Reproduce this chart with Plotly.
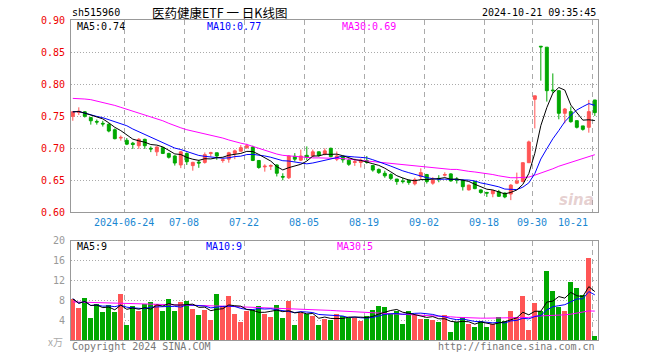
import plotly.graph_objects as go

# ---------------- data ----------------
dates = [
    "2024-06-11","2024-06-12","2024-06-13","2024-06-14","2024-06-17","2024-06-18","2024-06-19","2024-06-20","2024-06-21",
    "2024-06-24","2024-06-25","2024-06-26","2024-06-27","2024-06-28",
    "2024-07-01","2024-07-02","2024-07-03","2024-07-04","2024-07-05","2024-07-08","2024-07-09","2024-07-10","2024-07-11","2024-07-12",
    "2024-07-15","2024-07-16","2024-07-17","2024-07-18","2024-07-19","2024-07-22","2024-07-23","2024-07-24","2024-07-25","2024-07-26",
    "2024-07-29","2024-07-30","2024-07-31",
    "2024-08-01","2024-08-02","2024-08-05","2024-08-06","2024-08-07","2024-08-08","2024-08-09","2024-08-12","2024-08-13","2024-08-14",
    "2024-08-15","2024-08-16","2024-08-19","2024-08-20","2024-08-21","2024-08-22","2024-08-23","2024-08-26","2024-08-27","2024-08-28",
    "2024-08-29","2024-08-30",
    "2024-09-02","2024-09-03","2024-09-04","2024-09-05","2024-09-06","2024-09-09","2024-09-10","2024-09-11","2024-09-12","2024-09-13",
    "2024-09-18","2024-09-19","2024-09-20","2024-09-23","2024-09-24","2024-09-25","2024-09-26","2024-09-27","2024-09-30",
    "2024-10-08","2024-10-09","2024-10-10","2024-10-11","2024-10-14","2024-10-15","2024-10-16","2024-10-17","2024-10-18","2024-10-21",
]

open_ = [0.750,0.756,0.757,0.748,0.742,0.739,0.7375,0.729,0.716,0.7125,
         0.708,0.704,0.714,0.700,0.6945,0.701,0.692,0.688,0.674,0.692,
         0.673,0.6785,0.678,0.692,0.693,0.681,0.683,0.692,0.6955,0.701,
         0.702,0.681,0.671,0.672,0.674,0.656,0.654,0.6875,0.6815,0.689,
         0.688,0.6945,0.691,0.700,0.683,0.687,0.6815,0.678,0.678,0.681,
         0.673,0.667,0.661,0.659,0.652,0.649,0.650,0.6445,0.6557,0.659,
         0.6455,0.653,0.658,0.660,0.652,0.650,0.635,0.648,0.635,0.631,
         0.629,0.632,0.630,0.6285,0.6455,0.648,0.6775,0.7765,0.8595,0.858,
         0.791,0.790,0.7547,0.7573,0.7432,0.735,0.7328,0.7755]
high = [0.758,0.764,0.758,0.749,0.745,0.743,0.739,0.731,0.720,0.716,
        0.710,0.716,0.715,0.703,0.703,0.702,0.693,0.689,0.696,0.6935,
        0.679,0.682,0.6935,0.6945,0.693,0.684,0.6945,0.698,0.705,0.707,
        0.704,0.681,0.675,0.675,0.675,0.661,0.689,0.6925,0.698,0.703,
        0.698,0.695,0.700,0.701,0.695,0.688,0.684,0.684,0.684,0.688,
        0.674,0.6685,0.665,0.661,0.652,0.654,0.651,0.654,0.6687,0.660,
        0.655,0.658,0.6625,0.661,0.655,0.651,0.643,0.649,0.636,0.632,
        0.634,0.635,0.631,0.644,0.662,0.678,0.712,0.782,0.8595,0.858,
        0.817,0.791,0.763,0.7651,0.7432,0.735,0.7755,0.7755]
low = [0.743,0.752,0.748,0.737,0.737,0.734,0.725,0.714,0.712,0.705,
       0.699,0.699,0.699,0.694,0.688,0.691,0.684,0.673,0.669,0.674,
       0.665,0.6695,0.676,0.687,0.682,0.6775,0.6775,0.683,0.695,0.699,
       0.680,0.668,0.6635,0.666,0.656,0.650,0.652,0.6795,0.680,0.6815,
       0.686,0.687,0.689,0.686,0.680,0.6775,0.6725,0.6725,0.670,0.676,
       0.6635,0.660,0.654,0.650,0.643,0.645,0.643,0.642,0.6505,0.645,
       0.643,0.647,0.656,0.648,0.645,0.634,0.634,0.636,0.629,0.624,
       0.6235,0.624,0.622,0.619,0.644,0.647,0.677,0.731,0.8057,0.773,
       0.786,0.7453,0.739,0.740,0.731,0.7276,0.7244,0.7505]
close = [0.757,0.758,0.750,0.743,0.741,0.738,0.727,0.715,0.717,0.7065,
         0.706,0.714,0.704,0.699,0.702,0.692,0.686,0.677,0.6945,0.679,
         0.678,0.677,0.690,0.693,0.688,0.682,0.693,0.696,0.701,0.704,
         0.681,0.670,0.672,0.673,0.661,0.655,0.688,0.683,0.688,0.686,
         0.6945,0.689,0.696,0.687,0.688,0.682,0.675,0.679,0.6815,0.678,
         0.666,0.662,0.657,0.653,0.648,0.648,0.6465,0.651,0.662,0.648,
         0.650,0.652,0.659,0.649,0.6505,0.640,0.6425,0.637,0.631,0.630,
         0.634,0.625,0.624,0.6425,0.649,0.6775,0.710,0.782,0.8585,0.790,
         0.790,0.7547,0.7614,0.7416,0.7328,0.7296,0.7573,0.7557]

# volume (unit: 10k)
volume = [8.3,6.5,8.5,4.5,7.4,5.7,7.1,5.7,9.3,3.1,
          7.0,5.9,7.3,7.7,7.4,5.9,8.3,5.9,7.7,7.9,
          6.3,5.1,6.1,4.1,9.3,6.9,8.9,5.3,3.7,5.9,
          6.1,6.9,5.3,4.7,7.1,4.5,7.9,3.1,5.5,5.3,
          4.9,3.1,4.3,4.1,5.27,4.87,4.53,4.47,3.87,4.87,
          6.07,6.87,6.67,5.27,5.87,3.27,5.87,5.07,4.27,4.27,
          4.07,3.67,5.07,1.67,3.67,4.67,3.27,2.67,3.87,2.67,
          3.27,4.67,3.87,5.87,4.67,8.87,2.07,7.47,5.87,13.87,
          9.87,6.67,5.87,11.67,10.47,9.07,16.67,0.87]

# 30-day moving averages
ma30_price = [0.778,0.778,0.777,0.776,0.774,0.772,0.770,0.767,0.764,0.761,
              0.758,0.756,0.753,0.749,0.746,0.743,0.739,0.735,0.732,0.729,
              0.727,0.725,0.723,0.721,0.719,0.716,0.713,0.710,0.708,0.706,
              0.703,0.699,0.696,0.693,0.691,0.689,0.688,0.687,0.687,0.686,
              0.685,0.685,0.685,0.685,0.684,0.684,0.683,0.682,0.682,0.681,
              0.680,0.679,0.678,0.677,0.676,0.675,0.674,0.673,0.671,0.670,
              0.669,0.668,0.668,0.667,0.667,0.665,0.664,0.663,0.662,0.661,
              0.659,0.657,0.655,0.654,0.654,0.654,0.655,0.658,0.661,0.664,
              0.668,0.672,0.675,0.677,0.680,0.684,0.687,0.690]
ma30_vol = [7.67,7.63,7.60,7.57,7.54,7.50,7.45,7.42,7.38,7.34,
            7.30,7.25,7.22,7.19,7.16,7.13,7.10,7.06,7.03,7.00,
            6.97,6.94,6.91,6.88,6.85,6.82,6.78,6.74,6.70,6.67,
            6.63,6.58,6.54,6.49,6.45,6.40,6.35,6.31,6.27,6.22,
            6.17,6.10,6.03,5.96,5.88,5.80,5.73,5.66,5.58,5.50,
            5.43,5.37,5.32,5.27,5.23,5.18,5.13,5.09,5.05,4.99,
            4.90,4.83,4.76,4.67,4.57,4.50,4.45,4.42,4.40,4.40,
            4.40,4.40,4.40,4.40,4.40,4.45,4.55,4.80,4.83,4.87,
            4.90,4.95,5.07,5.20,5.40,5.60,5.85,5.82]

tick_dates = ["2024-06-24","2024-07-08","2024-07-22","2024-08-05","2024-08-19",
              "2024-09-02","2024-09-18","2024-09-30","2024-10-21"]
tick_labels = ["2024-06-24","07-08","07-22","08-05","08-19","09-02","09-18","09-30","10-21"]
price_ticks = [0.60,0.65,0.70,0.75,0.80,0.85,0.90]
vol_ticks = [4,8,12,16,20]

# ---------------- helpers ----------------
def moving_avg(vals, n):
    out = []
    for i in range(len(vals)):
        w = vals[max(0, i - n + 1):i + 1]
        out.append(sum(w) / len(w))
    return out

RED = "#ff5555"
GREEN = "#00a800"
MONO = "DejaVu Sans Mono"
W, H = 660, 360
PL, PT = 71, 20              # plot-area left / top in page pixels
PW, PH = 527, 320            # plot-area size
L, T = PL, PT
R, B = W - L - PW, H - T - PH

def px(x):
    return (x - PL) / PW

def py(y):
    return (PT + PH - y) / PH

xs = list(range(len(dates)))
grid_pos = [dates.index(d) - 0.4 for d in tick_dates]
ma5 = moving_avg(close, 5)
ma10 = moving_avg(close, 10)
vma5 = moving_avg(volume, 5)
vma10 = moving_avg(volume, 10)
bar_colors = [RED if c >= o else GREEN for o, c in zip(open_, close)]

fig = go.Figure()
fig.add_trace(go.Candlestick(
    x=xs, open=open_, high=high, low=low, close=close,
    increasing=dict(line=dict(color=RED, width=1), fillcolor=RED),
    decreasing=dict(line=dict(color=GREEN, width=1), fillcolor=GREEN),
    whiskerwidth=0, xaxis="x", yaxis="y", hoverinfo="skip", showlegend=False))
for vals, col in [(ma30_price, "#ff00ff"), (ma10, "#0000ff"), (ma5, "#000000")]:
    fig.add_trace(go.Scatter(x=xs, y=vals, mode="lines", line=dict(color=col, width=1),
                             xaxis="x", yaxis="y", hoverinfo="skip", showlegend=False))

fig.add_trace(go.Bar(x=xs, y=volume, marker=dict(color=bar_colors, line=dict(width=0)),
                     width=0.83, xaxis="x2", yaxis="y2", hoverinfo="skip", showlegend=False))
for vals, col in [(ma30_vol, "#ff00ff"), (vma10, "#0000ff"), (vma5, "#000000")]:
    fig.add_trace(go.Scatter(x=xs, y=vals, mode="lines", line=dict(color=col, width=1),
                             xaxis="x2", yaxis="y2", hoverinfo="skip", showlegend=False))

y_top_price = py(20.3)
y_bot_price = py(212.3)
y_top_vol = py(240.7)

xcommon = dict(range=[-0.3, 87.53], showgrid=True, gridcolor="#aaaaaa", griddash="5px,4px",
               gridwidth=1, tickvals=grid_pos, showticklabels=False, ticks="",
               showline=True, mirror=True, linecolor="#999999", linewidth=1, zeroline=False,
               fixedrange=True)

fig.update_layout(
    width=W, height=H, margin=dict(l=L, r=R, t=T, b=B, autoexpand=False),
    paper_bgcolor="white", plot_bgcolor="white",
    boxgap=0.3, bargap=0, hovermode=False,
    font=dict(family=MONO, size=10),
    xaxis=dict(domain=[0, 1], anchor="y", rangeslider=dict(visible=False), **xcommon),
    xaxis2=dict(domain=[0, 1], anchor="y2", matches="x", **xcommon),
    yaxis=dict(domain=[y_bot_price, min(1, y_top_price)], range=[0.60, 0.90], tickvals=price_ticks,
               ticktext=["%.2f" % v for v in price_ticks], tickfont=dict(color="#ee0000", size=10, family=MONO),
               showgrid=True, gridcolor="#aaaaaa", griddash="1px,2px", ticks="", ticklabelstandoff=3,
               showline=True, mirror=True, linecolor="#999999", zeroline=False, fixedrange=True),
    yaxis2=dict(domain=[0, y_top_vol], range=[0, 20], tickvals=vol_ticks,
                ticktext=[str(v) for v in vol_ticks], tickfont=dict(color="#999999", size=10, family=MONO),
                showgrid=True, gridcolor="#aaaaaa", griddash="1px,2px", ticks="", ticklabelstandoff=3,
                showline=True, mirror=True, linecolor="#999999", zeroline=False, fixedrange=True),
)

ann = []
def text(x, y, s, color="#000000", size=10, family=MONO, xanchor="left", yanchor="middle"):
    ann.append(dict(x=px(x), y=py(y), xref="paper", yref="paper", text=s, showarrow=False,
                    xanchor=xanchor, yanchor=yanchor, font=dict(color=color, size=size, family=family)))

# header
text(70, 13, "sh515960")
text(150, 12, "医药健康ETF 一 日K线图", size=12.5, family="Noto Sans CJK SC")
text(598, 13, "2024-10-21 09:35:45", xanchor="right")
# price MA labels
text(75, 26.5, "MA5:%.2f" % ma5[-1], "#000000")
text(205, 26.5, "MA10:%.2f" % ma10[-1], "#0000ff")
text(340, 26.5, "MA30:%.2f" % ma30_price[-1], "#ff00ff")
# volume MA labels
text(75, 246, "MA5:%d" % int(vma5[-1] - 0.75), "#000000")
text(204, 246, "MA10:%d" % int(vma10[-1]), "#0000ff")
text(335, 246, "MA30:%d" % int(ma30_vol[-1]), "#ff00ff")
# x tick labels
for d, lab in zip(tick_dates, tick_labels):
    gx = PL + (dates.index(d) - 0.4 + 0.3) * PW / 87.83
    if d == tick_dates[-1]:
        text(590, 222, lab, "#1a87d2", xanchor="right")
    else:
        text(gx, 222, lab, "#1a87d2", xanchor="center")
# unit + footer
text(65, 341, "x万", "#aaaaaa", size=10, family="Noto Sans CJK SC", xanchor="right")
text(70, 346, "Copyright 2024 SINA.COM", "#777777")
text(597, 346, "http://finance.sina.com.cn", "#777777", xanchor="right")
# watermark
text(596, 200, "<b><i>sina</i></b>", "rgba(200,150,150,0.45)", size=15, family="DejaVu Sans", xanchor="right")

fig.update_layout(annotations=ann)
fig.write_html("out.html", config={"displayModeBar": False},
               post_script="document.body.style.margin='0';")
